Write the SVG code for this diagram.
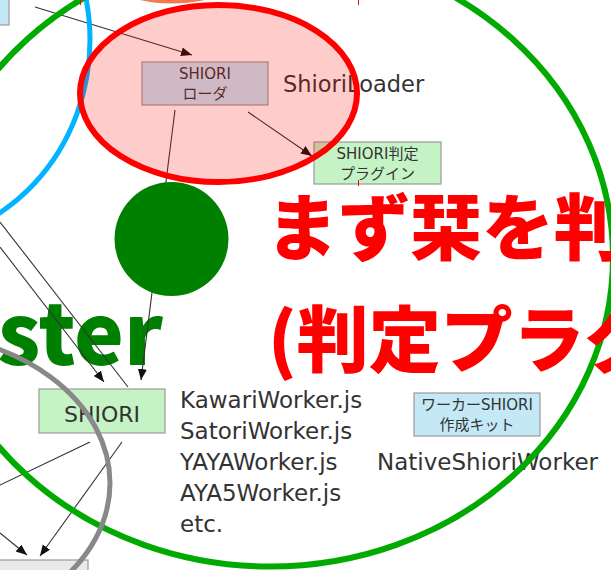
<svg xmlns="http://www.w3.org/2000/svg" width="611" height="570" viewBox="0 0 611 570">
<defs>
<style>
.box{stroke:#9a9a9a;stroke-width:1.2}
.g{fill:#c6f3c6}
.b{fill:#c4e8f6}
.t{font-family:"DejaVu Sans","Noto Sans CJK JP",sans-serif;fill:#333}
.s{font-size:15px}
.m{font-size:23px}
.c{stroke:#333;stroke-width:1.1;fill:none}
.big{font-family:"Noto Sans CJK JP",sans-serif;font-weight:900}
</style>
<marker id="ah" markerUnits="userSpaceOnUse" markerWidth="12" markerHeight="10" refX="11" refY="4.5" orient="auto">
<path d="M0,0 L11,4.5 L0,9 z" fill="#111"/>
</marker>
</defs>
<rect width="611" height="570" fill="#fff"/>

<g id="topleft-box"><rect class="box b" x="-20" y="-20" width="29" height="45"/></g>

<g id="node-loader">
<rect class="box b" x="142" y="62" width="126" height="43"/>
<text class="t s" x="205" y="79" text-anchor="middle">SHIORI</text>
<text class="t s" x="205" y="99" text-anchor="middle">ローダ</text>
</g>
<g id="label-shioriloader"><text class="t" font-size="22.5" x="283" y="92">ShioriLoader</text></g>

<g id="node-plugin">
<rect class="box g" x="314" y="142" width="127" height="42"/>
<text class="t s" x="377.5" y="159" text-anchor="middle">SHIORI判定</text>
<text class="t s" x="377.5" y="179" text-anchor="middle">プラグイン</text>
</g>

<g id="node-shiori">
<rect class="box g" x="39" y="389" width="126" height="44"/>
<text class="t" font-size="22" x="102" y="422" text-anchor="middle">SHIORI</text>
</g>

<g id="workers">
<text class="t m" x="180" y="408">KawariWorker.js</text>
<text class="t m" x="180" y="439">SatoriWorker.js</text>
<text class="t m" x="180" y="470">YAYAWorker.js</text>
<text class="t m" x="180" y="501">AYA5Worker.js</text>
<text class="t m" x="180" y="532">etc.</text>
</g>

<g id="node-kit">
<rect class="box b" x="414" y="393" width="126" height="43"/>
<text class="t s" x="477" y="410" text-anchor="middle">ワーカーSHIORI</text>
<text class="t s" x="477" y="430" text-anchor="middle">作成キット</text>
</g>
<g id="label-native"><text class="t m" x="377" y="470">NativeShioriWorker</text></g>

<g id="bottomleft-box"><rect x="-20" y="560" width="108" height="30" fill="#e9e9e9" stroke="#9a9a9a" stroke-width="1.2"/></g>

<g id="ster"><text class="big" font-size="84" fill="#008000" x="163" y="365" text-anchor="end">ster</text></g>

<g id="connectors">
<line class="c" x1="35" y1="7" x2="192" y2="55" marker-end="url(#ah)"/>
<line class="c" x1="175" y1="110" x2="141" y2="380" marker-end="url(#ah)"/>
<line class="c" x1="248" y1="112" x2="312" y2="156" marker-end="url(#ah)"/>
<line class="c" x1="0" y1="247" x2="104" y2="382" marker-end="url(#ah)"/>
<line class="c" x1="128" y1="387" x2="0" y2="222"/>
<line class="c" x1="122" y1="442" x2="40" y2="556" marker-end="url(#ah)"/>
<line class="c" x1="90" y1="442" x2="0" y2="485"/>
<line class="c" x1="0" y1="533" x2="27" y2="555" marker-end="url(#ah)"/>
</g>

<g id="overlays">
<path d="M140,0 Q170,7 205,0 Z" fill="#f27a4e"/>
<ellipse cx="-100" cy="40" rx="190" ry="203" fill="none" stroke="#00b4ff" stroke-width="5"/>
<ellipse cx="218.5" cy="93.5" rx="138.5" ry="88.5" fill="rgba(255,0,0,0.2)" stroke="#ff0000" stroke-width="6"/>
<ellipse cx="270" cy="257.5" rx="343" ry="309" fill="none" stroke="#00aa00" stroke-width="6"/>
<ellipse cx="-93" cy="483" rx="203" ry="150" fill="none" stroke="#888" stroke-width="5"/>
<circle cx="171.5" cy="239" r="57" fill="#008000"/>
<line x1="80.5" y1="0" x2="80.5" y2="5" stroke="#f00" stroke-width="1"/>
<line x1="358.5" y1="0" x2="358.5" y2="5" stroke="#f00" stroke-width="1"/>
<line x1="358.5" y1="180" x2="358.5" y2="186" stroke="#f00" stroke-width="1"/>
</g>

<g id="headline">
<text class="big" font-size="72" fill="#ff0000" x="266" y="254">まず栞を判</text>
<text class="big" font-size="72" fill="#ff0000" x="268" y="366">(判定プラグ</text>
</g>
</svg>
